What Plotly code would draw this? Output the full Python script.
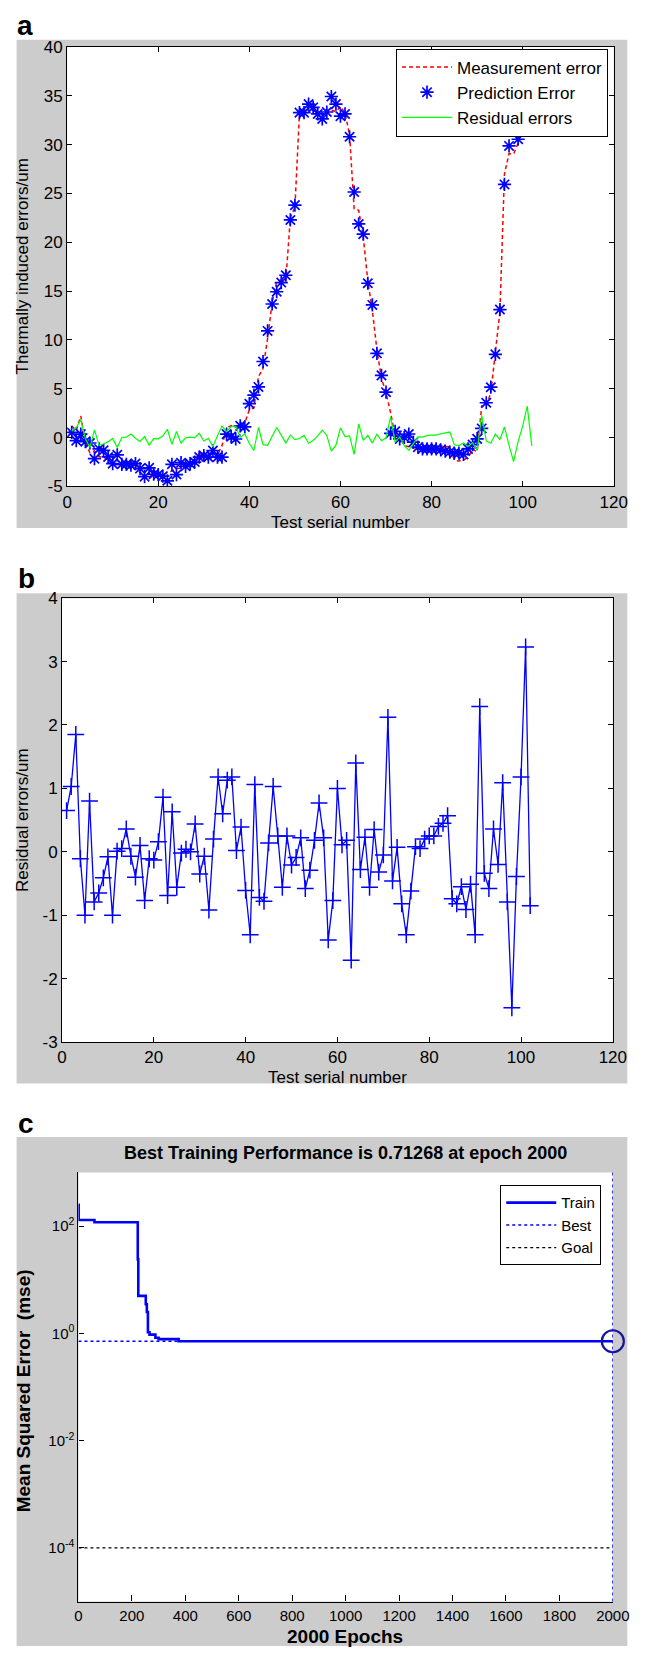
import plotly.graph_objects as go

W, H = 654, 1656

# ---------------- data ----------------
serial = list(range(1, 103))

prediction = [
    0.53, -0.31, 0.36, -0.41, -0.55, -2.16, -1.16, -1.30, -1.98, -2.66,
    -1.76, -2.73, -2.73, -2.83, -2.66, -3.17, -4.00, -3.10, -3.75, -3.78,
    -3.95, -4.42, -2.73, -3.78, -2.57, -2.94, -2.66, -2.50, -2.00, -1.83,
    -2.00, -1.32, -2.00, -2.00, 0.36, 0.10, -0.14, 1.20, 1.10, 3.47,
    4.35, 5.19, 7.79, 10.92, 13.68, 14.93, 15.87, 16.62, 22.28, 23.80,
    33.27, 33.27, 34.14, 33.80, 33.13, 32.63, 33.33, 34.92, 34.14, 32.90,
    33.13, 30.80, 25.14, 21.87, 20.83, 15.80, 13.58, 8.63, 6.37, 4.65,
    0.44, 0.64, -0.13, 0.03, 0.37, -0.47, -0.98, -1.15, -1.15, -1.15,
    -1.15, -1.25, -1.38, -1.48, -1.58, -1.58, -1.72, -1.15, -0.71, -0.13,
    0.94, 3.57, 5.16, 8.53, 13.11, 25.92, 29.86, 31.50, 30.54, 32.50,
    33.50, 35.00]

measurement = [
    1.18, 0.72, 2.21, -0.52, -1.55, -1.36, -1.95, -1.95, -2.39, -2.74,
    -2.76, -2.72, -2.68, -2.47, -2.73, -3.57, -3.90, -3.87, -3.86, -3.91,
    -3.79, -3.56, -3.42, -3.15, -3.13, -2.96, -2.62, -2.50, -1.56, -2.18,
    -2.07, -2.24, -1.80, -0.82, 0.96, 1.23, 1.04, 1.22, 1.49, 2.86,
    3.04, 6.25, 7.07, 10.14, 13.82, 15.96, 16.12, 16.06, 22.53, 23.59,
    33.18, 33.49, 33.56, 33.51, 33.31, 33.40, 33.55, 33.53, 33.37, 33.90,
    33.24, 30.98, 23.43, 23.27, 20.55, 16.03, 13.02, 8.98, 6.05, 4.60,
    2.56, 0.18, -0.06, -0.79, -0.94, -1.09, -0.90, -1.10, -0.95, -0.90,
    -0.90, -0.85, -0.93, -0.91, -2.32, -2.40, -2.27, -2.06, -1.22, -1.44,
    3.23, 3.23, 4.58, 8.89, 12.91, 27.01, 29.07, 29.04, 30.15, 33.68,
    36.73, 34.15]

residual = [
    0.65, 1.03, 1.85, -0.11, -1.00, 0.80, -0.79, -0.65, -0.41, -0.08,
    -1.00, 0.01, 0.05, 0.36, -0.07, -0.40, 0.10, -0.77, -0.11, -0.13,
    0.16, 0.86, -0.69, 0.63, -0.56, -0.02, 0.04, 0.00, 0.44, -0.35,
    -0.07, -0.92, 0.20, 1.18, 0.60, 1.13, 1.18, 0.02, 0.39, -0.61,
    -1.31, 1.06, -0.72, -0.78, 0.14, 1.03, 0.25, -0.56, 0.25, -0.21,
    -0.09, 0.22, -0.58, -0.29, 0.18, 0.77, 0.22, -1.39, -0.77, 1.00,
    0.11, 0.18, -1.71, 1.40, -0.28, 0.23, -0.56, 0.35, -0.32, -0.05,
    2.12, -0.46, 0.07, -0.82, -1.31, -0.62, 0.08, 0.05, 0.20, 0.25,
    0.25, 0.40, 0.45, 0.57, -0.74, -0.82, -0.55, -0.91, -0.51, -1.31,
    2.29, -0.34, -0.58, 0.36, -0.20, 1.09, -0.79, -2.46, -0.39, 1.18,
    3.23, -0.85]

train_epochs = [0, 1, 60, 222, 224, 252, 256, 260, 266, 288, 300, 375, 2000]
train_mse = [250, 130, 118, 24, 5.0, 3.5, 2.5, 1.05, 0.95, 0.83, 0.78, 0.7127, 0.71268]
total_epochs = 2000
best_epoch = 2000
best_perf = 0.71268
goal_mse = 1e-4

x_ticks_ab = [0, 20, 40, 60, 80, 100, 120]
y_ticks_a = [-5, 0, 5, 10, 15, 20, 25, 30, 35, 40]
y_ticktext_a = ["-5", "0", "5", "10", "15", "20", "25", "30", "35", "40"]
y_ticks_b = [-3, -2, -1, 0, 1, 2, 3, 4]
y_ticktext_b = ["-3", "-2", "-1", "0", "1", "2", "3", "4"]
x_ticks_c = [0, 200, 400, 600, 800, 1000, 1200, 1400, 1600, 1800, 2000]
y_ticks_c = [1e-4, 1e-2, 1e0, 1e2]
y_ticktext_c = ["10<sup>-4</sup>", "10<sup>-2</sup>", "10<sup>0</sup>", "10<sup>2</sup>"]

# ---------------- helpers ----------------
FONT = "Liberation Sans, Arial, sans-serif"


def px(p):
    return p / W


def py(p):
    return 1 - p / H


fig = go.Figure()

# ---- panel a ----
fig.add_trace(go.Scatter(
    x=serial, y=measurement, mode="lines", name="Measurement error",
    line=dict(color="#ff0000", width=1.5, dash="4px,3px"),
    xaxis="x", yaxis="y", legend="legend"))
fig.add_trace(go.Scatter(
    x=serial, y=prediction, mode="markers", name="Prediction Error",
    marker=dict(symbol="asterisk-open", size=11, color="#0000ff",
                line=dict(color="#0000ff", width=1.7)),
    xaxis="x", yaxis="y", legend="legend"))
fig.add_trace(go.Scatter(
    x=serial, y=residual, mode="lines", name="Residual errors",
    line=dict(color="#00ff00", width=1.2),
    xaxis="x", yaxis="y", legend="legend"))

# ---- panel b ----
fig.add_trace(go.Scatter(
    x=serial, y=residual, mode="lines+markers", showlegend=False,
    line=dict(color="#0000ff", width=1.3),
    marker=dict(symbol="cross-thin-open", size=12, color="#0000ff",
                line=dict(color="#0000ff", width=1.5)),
    xaxis="x2", yaxis="y2"))

# ---- panel c ----
fig.add_trace(go.Scatter(
    x=[0, total_epochs], y=[best_perf, best_perf], mode="lines", name="Best",
    line=dict(color="#0000ff", width=1.5, dash="3px,3px"),
    xaxis="x3", yaxis="y3", legend="legend2", legendrank=2))
fig.add_trace(go.Scatter(
    x=[0, total_epochs], y=[goal_mse, goal_mse], mode="lines", name="Goal",
    line=dict(color="#000000", width=1.2, dash="3px,3px"),
    xaxis="x3", yaxis="y3", legend="legend2", legendrank=3))
fig.add_trace(go.Scatter(
    x=train_epochs, y=train_mse, mode="lines", name="Train",
    line=dict(color="#0000ff", width=2.6, shape="hv"),
    xaxis="x3", yaxis="y3", legend="legend2", legendrank=1))
fig.add_trace(go.Scatter(
    x=[best_epoch], y=[best_perf], mode="markers", showlegend=False,
    marker=dict(symbol="circle-open", size=22, color="#16169a",
                line=dict(color="#16169a", width=2.2)),
    cliponaxis=False, xaxis="x3", yaxis="y3"))

# ---------------- axes ----------------
tickfont = dict(family=FONT, size=17, color="#000000")
box_axis = dict(showline=True, linecolor="#000000", linewidth=1, mirror="ticks",
                ticks="inside", ticklen=5, tickcolor="#000000", tickwidth=1,
                showgrid=False, zeroline=False, tickfont=tickfont)

layout = dict(
    width=W, height=H,
    margin=dict(l=0, r=0, t=0, b=0),
    paper_bgcolor="#ffffff", plot_bgcolor="#ffffff",
    font=dict(family=FONT, color="#000000"),
    xaxis=dict(domain=[px(64.3), px(630)], anchor="y", range=[0, 120],
               tickvals=x_ticks_ab, **box_axis),
    yaxis=dict(domain=[py(483), py(38.3)], anchor="x", range=[-5, 40],
               tickvals=y_ticks_a, ticktext=y_ticktext_a, **box_axis),
    xaxis2=dict(domain=[px(59), px(629)], anchor="y2", range=[0, 120],
                tickvals=x_ticks_ab, **box_axis),
    yaxis2=dict(domain=[py(1045), py(596)], anchor="x2", range=[-3, 4],
                tickvals=y_ticks_b, ticktext=y_ticktext_b, **box_axis),
    xaxis3=dict(domain=[px(76), px(629)], anchor="y3", range=[0, total_epochs],
                tickvals=x_ticks_c, showline=True, linecolor="#000000", linewidth=1.2,
                ticks="inside", ticklen=6, tickcolor="#000000", showgrid=False,
                zeroline=False, tickfont=dict(family=FONT, size=15, color="#000000")),
    yaxis3=dict(domain=[py(1611), py(1177)], anchor="x3", type="log", range=[-5, 3],
                tickvals=y_ticks_c, ticktext=y_ticktext_c, showline=True,
                linecolor="#000000", linewidth=1.2, ticks="inside", ticklen=5,
                tickcolor="#000000", showgrid=False, zeroline=False,
                tickfont=dict(family=FONT, size=15, color="#000000")),
    legend=dict(x=px(624), xanchor="right", y=py(40), yanchor="top",
                bgcolor="#ffffff", bordercolor="#000000", borderwidth=1,
                font=dict(family=FONT, size=17, color="#000000"), itemwidth=50),
    legend2=dict(x=px(617), xanchor="right", y=py(1190), yanchor="top",
                 bgcolor="#ffffff", bordercolor="#000000", borderwidth=1,
                 font=dict(family=FONT, size=15, color="#000000"), itemwidth=50),
)

# gray figure backgrounds, then white plot areas on top of them
shapes = []
for top, bottom in [(31, 525), (591, 1087), (1141, 1656)]:
    shapes.append(dict(type="rect", xref="paper", yref="paper",
                       x0=px(12), x1=px(644), y0=py(bottom), y1=py(top),
                       fillcolor="#cccccc", line=dict(width=0), layer="below"))
for xa, ya in [("x", "y"), ("x2", "y2"), ("x3", "y3")]:
    shapes.append(dict(type="rect", xref=xa + " domain", yref=ya + " domain",
                       x0=0, x1=1, y0=0, y1=1,
                       fillcolor="#ffffff", line=dict(width=0), layer="below"))
# vertical "best" line
shapes.append(dict(type="line", xref="x3", yref="y3 domain", x0=best_epoch, x1=best_epoch,
                   y0=0, y1=1, line=dict(color="#0000ff", width=1.5, dash="3px,3px")))
layout["shapes"] = shapes


def ann(text, x, y, size, bold=False, angle=0, xanchor="center", yanchor="middle"):
    return dict(text=("<b>%s</b>" % text) if bold else text, xref="paper", yref="paper",
                x=px(x), y=py(y), showarrow=False, textangle=angle,
                xanchor=xanchor, yanchor=yanchor,
                font=dict(family=FONT, size=size, color="#000000"))


layout["annotations"] = [
    ann("a", 21, 17, 28, bold=True),
    ann("b", 22, 576, 28, bold=True),
    ann("c", 22, 1127, 28, bold=True),
    ann("Thermally induced errors/um", 18, 260, 17, angle=-90),
    ann("Test serial number", 347, 519, 17),
    ann("Residual errors/um", 18, 820, 17, angle=-90),
    ann("Test serial number", 344, 1081, 17),
    ann("Best Training Performance is 0.71268 at epoch 2000", 352, 1157, 18, bold=True),
    ann("Mean Squared Error  (mse)", 20, 1398, 19, bold=True, angle=-90),
    ann("2000 Epochs", 352, 1646, 19, bold=True),
]

fig.update_layout(**layout)
fig.write_html("out.html")
